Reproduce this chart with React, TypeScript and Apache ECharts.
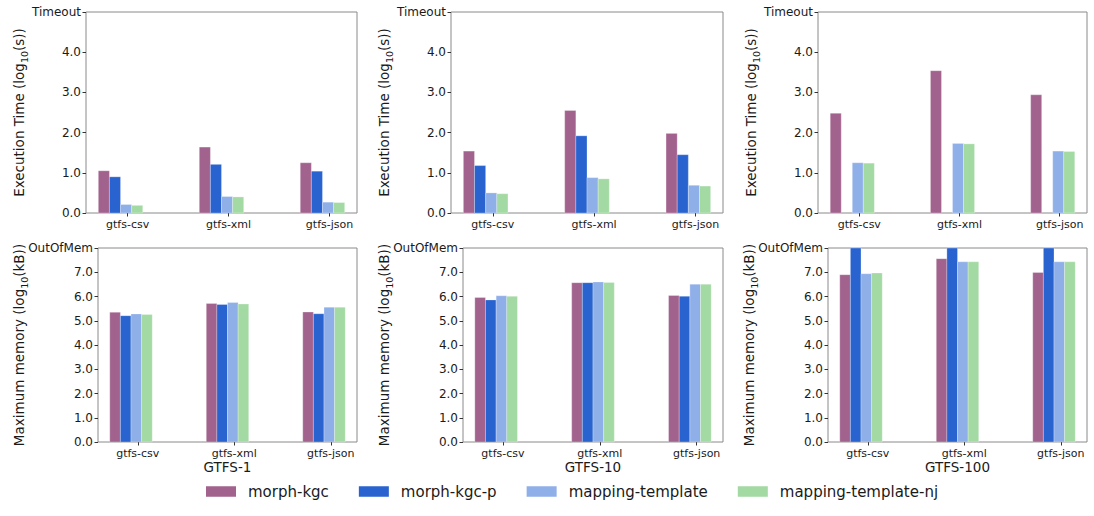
import React, { useEffect, useRef } from "react";
import * as echarts from "echarts";

const categories = ["gtfs-csv", "gtfs-xml", "gtfs-json"];
const systems = ["morph-kgc", "morph-kgc-p", "mapping-template", "mapping-template-nj"];
const colors = ["#a2628e", "#2863cf", "#8fafe8", "#a3d9a3"];
const datasets = ["GTFS-1", "GTFS-10", "GTFS-100"];

// Execution time, log10(s); one row per system, one value per category (null = no bar)
const execGtfs1 = [
  [1.05, 1.64, 1.25],
  [0.9, 1.21, 1.04],
  [0.21, 0.41, 0.27],
  [0.19, 0.4, 0.26],
];
const execGtfs10 = [
  [1.54, 2.55, 1.98],
  [1.18, 1.92, 1.45],
  [0.5, 0.88, 0.69],
  [0.48, 0.85, 0.67],
];
const execGtfs100 = [
  [2.48, 3.54, 2.94],
  [null, null, null],
  [1.25, 1.73, 1.54],
  [1.24, 1.72, 1.53],
];
// Maximum memory, log10(kB); 8 = OutOfMem
const memGtfs1 = [
  [5.35, 5.71, 5.36],
  [5.21, 5.67, 5.29],
  [5.28, 5.75, 5.56],
  [5.26, 5.69, 5.56],
];
const memGtfs10 = [
  [5.96, 6.57, 6.04],
  [5.86, 6.57, 6.01],
  [6.03, 6.6, 6.51],
  [6.01, 6.58, 6.51],
];
const memGtfs100 = [
  [6.9, 7.56, 6.99],
  [8, 8, 8],
  [6.94, 7.43, 7.43],
  [6.97, 7.43, 7.43],
];

const execTicks = ["0.0", "1.0", "2.0", "3.0", "4.0", "Timeout"];
const memTicks = ["0.0", "1.0", "2.0", "3.0", "4.0", "5.0", "6.0", "7.0", "OutOfMem"];

const FONT = "DejaVu Sans";
const TXT = "#1a1a1a";
const BAR_W = 0.11;
const GROUP_START = -0.29;

const panels = [
  { data: execGtfs1, row: 0, col: 0 },
  { data: execGtfs10, row: 0, col: 1 },
  { data: execGtfs100, row: 0, col: 2 },
  { data: memGtfs1, row: 1, col: 0 },
  { data: memGtfs10, row: 1, col: 1 },
  { data: memGtfs100, row: 1, col: 2 },
];

const gridBoxes = [
  { left: 86, top: 12, width: 271, height: 201 },
  { left: 451, top: 12, width: 272, height: 201 },
  { left: 818, top: 12, width: 269, height: 201 },
  { left: 98, top: 248, width: 259, height: 194 },
  { left: 463, top: 248, width: 260, height: 194 },
  { left: 828, top: 248, width: 259, height: 194 },
];

function buildOption() {
  const grid: any[] = [];
  const xAxis: any[] = [];
  const yAxis: any[] = [];
  const series: any[] = [];

  panels.forEach((p, i) => {
    const g = gridBoxes[i];
    grid.push({
      ...g,
      show: true,
      borderColor: "#8a8a8a",
      borderWidth: 1,
      backgroundColor: "transparent",
    });
    xAxis.push({
      type: "value",
      gridIndex: i,
      position: "bottom",
      min: -0.412,
      max: 2.272,
      splitLine: { show: false },
      axisLine: { show: false, onZero: false },
      axisTick: {
        show: true,
        customValues: [0, 1, 2],
        length: 3.5,
        lineStyle: { color: "#333" },
      },
      axisLabel: {
        customValues: [0, 1, 2],
        formatter: (v: number) => categories[Math.round(v)] ?? "",
        fontFamily: FONT,
        fontSize: 11,
        color: TXT,
        margin: 6,
        hideOverlap: false,
      },
      name: p.row === 1 ? datasets[p.col] : "",
      nameLocation: "middle",
      nameGap: 18,
      nameMoveOverlap: false,
      nameTextStyle: { fontFamily: FONT, fontSize: 13.5, color: TXT },
    });
    const ticks = p.row === 0 ? execTicks : memTicks;
    yAxis.push({
      type: "value",
      gridIndex: i,
      position: "left",
      min: 0,
      max: ticks.length - 1,
      interval: 1,
      splitLine: { show: false },
      axisLine: { show: false, onZero: false },
      axisTick: { show: true, length: 3.5, lineStyle: { color: "#333" } },
      axisLabel: {
        formatter: (v: number) => ticks[Math.round(v)] ?? "",
        fontFamily: FONT,
        fontSize: 12,
        color: TXT,
        margin: 5,
      },
      name:
        p.row === 0
          ? "Execution Time (log{sub|10}(s))"
          : "Maximum memory (log{sub|10}(kB))",
      nameLocation: "middle",
      nameRotate: 90,
      nameGap: p.row === 0 ? 60 : 72,
      nameMoveOverlap: false,
      nameTextStyle: {
        fontFamily: FONT,
        fontSize: 13.5,
        color: TXT,
        rich: {
          sub: {
            fontFamily: FONT,
            fontSize: 9.5,
            color: TXT,
            verticalAlign: "bottom",
            padding: [0, 0, -3, 0],
          },
        },
      },
    });

    p.data.forEach((vals, s) => {
      const pts = vals
        .map((v, c) => (v === null ? null : [c, v]))
        .filter((d) => d !== null);
      series.push({
        type: "custom",
        name: systems[s],
        xAxisIndex: i,
        yAxisIndex: i,
        itemStyle: { color: colors[s] },
        data: pts,
        renderItem: (params: any, api: any) => {
          const c = api.value(0);
          const v = api.value(1);
          const x0 = c + GROUP_START + s * BAR_W;
          const p0 = api.coord([x0, 0]);
          const p1 = api.coord([x0 + BAR_W, v]);
          return {
            type: "rect",
            shape: {
              x: p0[0],
              y: p1[1],
              width: p1[0] - p0[0],
              height: p0[1] - p1[1],
            },
            style: {
              fill: colors[s],
              stroke: "rgba(255,255,255,0.35)",
              lineWidth: 0.8,
            },
          };
        },
      });
    });
  });

  return {
    animation: false,
    backgroundColor: "#ffffff",
    grid,
    xAxis,
    yAxis,
    series,
    legend: {
      data: systems,
      left: 201,
      top: 479,
      icon: "rect",
      itemWidth: 30,
      itemHeight: 10.5,
      itemGap: 30,
      selectedMode: false,
      textStyle: {
        fontFamily: FONT,
        fontSize: 15,
        color: TXT,
        padding: [0, 0, 0, 7],
      },
    },
  };
}

export default function App() {
  const ref = useRef<HTMLDivElement>(null);
  useEffect(() => {
    if (!ref.current) return;
    const chart = echarts.init(ref.current, null, { renderer: "svg" });
    chart.setOption(buildOption() as any);
    return () => chart.dispose();
  }, []);
  return (
    <div
      ref={ref}
      style={{ position: "absolute", left: 0, top: 0, width: 1094, height: 516 }}
    />
  );
}
